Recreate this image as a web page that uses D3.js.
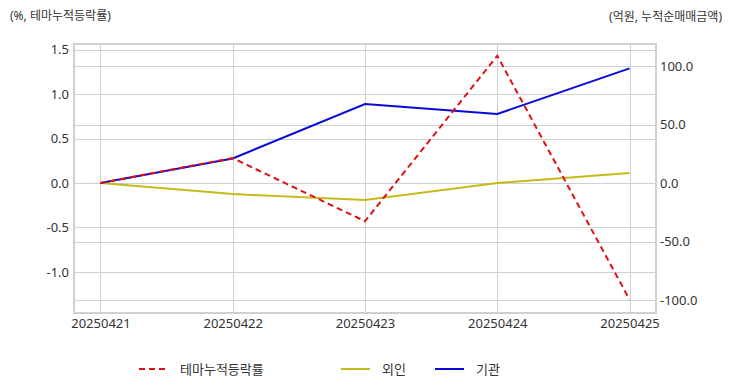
<!DOCTYPE html>
<html>
<head>
<meta charset="utf-8">
<script src="https://cdn.jsdelivr.net/npm/d3@7"></script>
<style>
  body { margin: 0; background: #fff; }
  svg text { font-family: "Noto Sans", "Noto Sans CJK KR", sans-serif; fill: #333; }
</style>
</head>
<body>
<svg id="chart" width="732" height="392"></svg>
<script>
// dates on the x axis
const dates = ["20250421", "20250422", "20250423", "20250424", "20250425"];
// theme cumulative change, % (left axis)
const themeRate = [0.0, 0.28, -0.43, 1.43, -1.31];
// foreign net buying, 억원 (right axis)
const foreign = [0.0, -9.5, -14.5, 0.0, 8.5];
// institutional net buying, 억원 (right axis)
const institution = [0.0, 21.0, 67.5, 59.0, 98.0];

const leftTicks = [-1.0, -0.5, 0.0, 0.5, 1.0, 1.5];
const rightTicks = [-100, -50, 0, 50, 100];

const margin = { top: 44, right: 76, bottom: 79, left: 74 };
const width = 732, height = 392;

const svg = d3.select("#chart");

const x = d3.scalePoint()
  .domain(dates)
  .range([margin.left, width - margin.right])
  .padding(0.2);

const yL = d3.scaleLinear()
  .domain([-1.461, 1.562])
  .range([height - margin.bottom, margin.top]);

const yR = d3.scaleLinear()
  .domain([-111.1, 118.8])
  .range([height - margin.bottom, margin.top]);

// grid
const grid = svg.append("g").attr("stroke", "#d0d0d0").attr("stroke-width", 1);
grid.selectAll(".gl").data(leftTicks).join("line")
  .attr("x1", margin.left).attr("x2", width - margin.right)
  .attr("y1", d => Math.round(yL(d)) + 0.5).attr("y2", d => Math.round(yL(d)) + 0.5);
grid.selectAll(".gr").data(rightTicks).join("line")
  .attr("x1", margin.left).attr("x2", width - margin.right)
  .attr("y1", d => Math.round(yR(d)) + 0.5).attr("y2", d => Math.round(yR(d)) + 0.5);
grid.selectAll(".gx").data(dates).join("line")
  .attr("x1", d => Math.round(x(d)) + 0.5).attr("x2", d => Math.round(x(d)) + 0.5)
  .attr("y1", margin.top).attr("y2", height - margin.bottom);

// frame
svg.append("rect")
  .attr("x", margin.left).attr("y", margin.top)
  .attr("width", width - margin.left - margin.right)
  .attr("height", height - margin.top - margin.bottom)
  .attr("fill", "none").attr("stroke", "#d0d0d0").attr("stroke-width", 2);

// axes
const axL = svg.append("g")
  .attr("transform", "translate(" + margin.left + ",0)")
  .call(d3.axisLeft(yL).tickValues(leftTicks).tickFormat(d3.format(".1f")).tickSize(0).tickPadding(5));
const axR = svg.append("g")
  .attr("transform", "translate(" + (width - margin.right) + ",0)")
  .call(d3.axisRight(yR).tickValues(rightTicks).tickFormat(d3.format(".1f")).tickSize(0).tickPadding(4));
const axB = svg.append("g")
  .attr("transform", "translate(0," + (height - margin.bottom) + ")")
  .call(d3.axisBottom(x).tickSize(0).tickPadding(6));
[axL, axR, axB].forEach(a => {
  a.select(".domain").remove();
  a.selectAll("text").attr("font-size", 13).attr("font-family", null).attr("fill", "#333");
});
axL.selectAll("text").text(d => d3.format(".1f")(d).replace("−", "-"));
axR.selectAll("text").text(d => d3.format(".1f")(d).replace("−", "-"));

// lines
const lineL = d3.line().x((d, i) => x(dates[i])).y(d => yL(d));
const lineR = d3.line().x((d, i) => x(dates[i])).y(d => yR(d));

svg.append("path").datum(foreign)
  .attr("d", lineR).attr("fill", "none")
  .attr("stroke", "#c4bb1a").attr("stroke-width", 2);
svg.append("path").datum(institution)
  .attr("d", lineR).attr("fill", "none")
  .attr("stroke", "#0a0ad8").attr("stroke-width", 2);
svg.append("path").datum(themeRate)
  .attr("d", lineL).attr("fill", "none")
  .attr("stroke", "#e01010").attr("stroke-width", 2)
  .attr("stroke-dasharray", "6,4");

// axis titles
svg.append("text").attr("x", 10).attr("y", 20).attr("font-size", 12).text("(%, 테마누적등락률)");
svg.append("text").attr("x", 722).attr("y", 21).attr("font-size", 12)
  .attr("text-anchor", "end").text("(억원, 누적순매매금액)");

// legend
const legend = [
  { name: "테마누적등락률", color: "#e01010", dash: "6,4", x: 139 },
  { name: "외인", color: "#c4bb1a", dash: null, x: 341 },
  { name: "기관", color: "#0a0ad8", dash: null, x: 435 }
];
const lg = svg.append("g").selectAll("g").data(legend).join("g")
  .attr("transform", d => "translate(" + d.x + ",369)");
lg.append("line").attr("x1", 0).attr("x2", 29).attr("y1", 0).attr("y2", 0)
  .attr("stroke", d => d.color).attr("stroke-width", 2)
  .attr("stroke-dasharray", d => d.dash);
lg.append("text").attr("x", 41).attr("y", 5).attr("font-size", 13).text(d => d.name);
</script>
</body>
</html>
